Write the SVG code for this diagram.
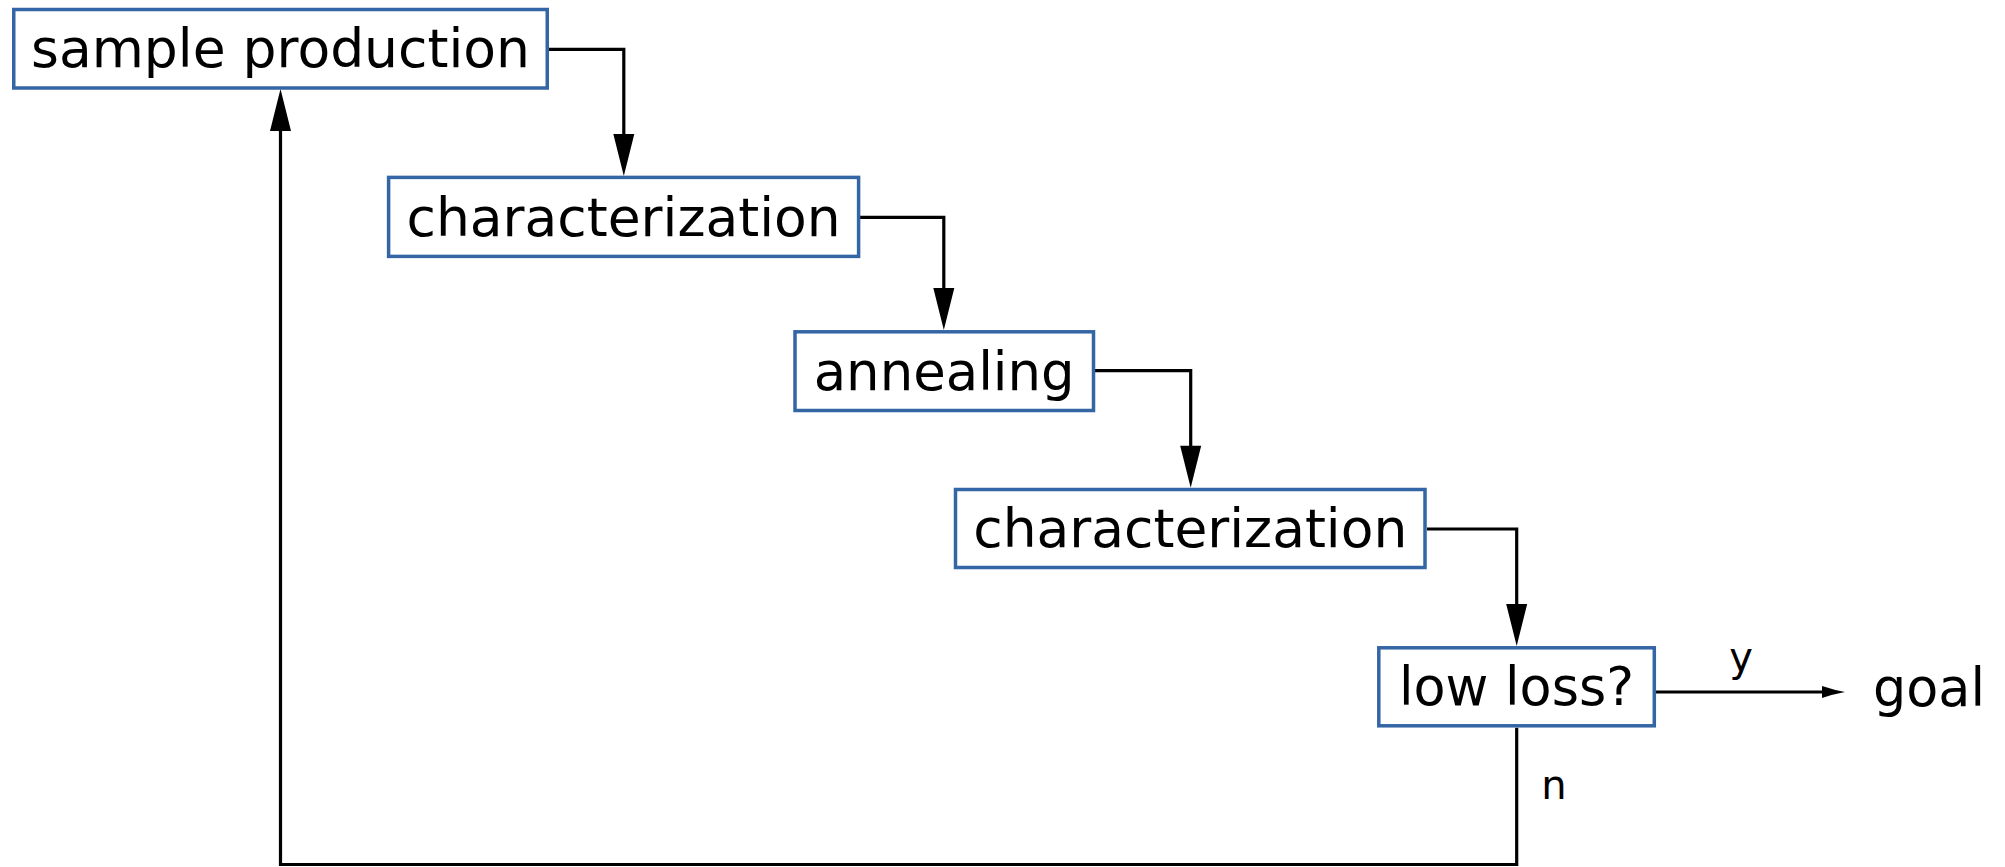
<svg xmlns="http://www.w3.org/2000/svg" width="2005" height="867" viewBox="0 0 2005 867">
<style>
.box{fill:#ffffff;stroke:#3465a4;stroke-width:3.5}
.lbl{font-family:"DejaVu Sans",sans-serif;font-size:53px;fill:#000;text-anchor:middle}
.sm{font-family:"DejaVu Sans",sans-serif;font-size:40px;fill:#000;text-anchor:middle}
.con{fill:none;stroke:#000;stroke-width:3.2;stroke-linejoin:miter}
</style>
<defs>
<marker id="arr" markerUnits="userSpaceOnUse" markerWidth="44" markerHeight="22" refX="6" refY="10.5" orient="auto" overflow="visible">
<path d="M0,0 L42,10.5 L0,21 z" fill="#000"/>
</marker>
<marker id="arrs" markerUnits="userSpaceOnUse" markerWidth="24" markerHeight="12" refX="0" refY="6" orient="auto" overflow="visible">
<path d="M0,0 Q12,4 23,6 Q12,8 0,12 z" fill="#000"/>
</marker>
</defs>
<rect width="2005" height="867" fill="#fff"/>
<g id="connectors">
<path class="con" d="M549,49.3 H623.8 V140" marker-end="url(#arr)"/>
<path class="con" d="M860,217.3 H943.8 V294" marker-end="url(#arr)"/>
<path class="con" d="M1095,370.7 H1190.7 V451.7" marker-end="url(#arr)"/>
<path class="con" d="M1427,529 H1516.7 V610" marker-end="url(#arr)"/>
<path class="con" d="M1516.7,727.7 V864.5 H280.5 V125" marker-end="url(#arr)"/>
<path class="con" d="M1656,692 H1822" marker-end="url(#arrs)"/>
<text class="sm" x="1741" y="671">y</text>
<text class="sm" x="1554" y="799">n</text>
</g>
<g id="node-sample-production">
<rect class="box" x="13.75" y="9.5" width="533.5" height="78.5"/>
<text class="lbl" x="280.5" y="66.7" textLength="499" lengthAdjust="spacingAndGlyphs">sample production</text>
</g>
<g id="node-characterization-1">
<rect class="box" x="388.6" y="177.4" width="470" height="79"/>
<text class="lbl" x="623.6" y="235.5" textLength="434" lengthAdjust="spacingAndGlyphs">characterization</text>
</g>
<g id="node-annealing">
<rect class="box" x="795" y="331.8" width="298.5" height="78.7"/>
<text class="lbl" x="944.2" y="389.5" textLength="261" lengthAdjust="spacingAndGlyphs">annealing</text>
</g>
<g id="node-characterization-2">
<rect class="box" x="955.5" y="489.5" width="469.5" height="78"/>
<text class="lbl" x="1190.3" y="547" textLength="434" lengthAdjust="spacingAndGlyphs">characterization</text>
</g>
<g id="node-low-loss">
<rect class="box" x="1378.8" y="647.8" width="275.5" height="78"/>
<text class="lbl" x="1516.5" y="705" textLength="235" lengthAdjust="spacingAndGlyphs">low loss?</text>
</g>
<g id="node-goal">
<text class="lbl" x="1873" y="706" textLength="112" lengthAdjust="spacingAndGlyphs" style="text-anchor:start">goal</text>
</g>
</svg>
